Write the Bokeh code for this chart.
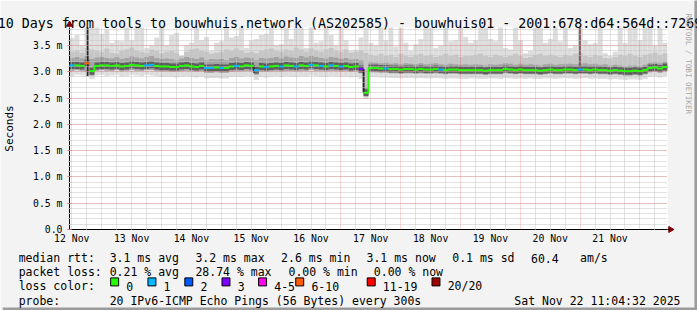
import math
from bokeh.plotting import figure
from bokeh.models import (Range1d, FixedTicker, PrintfTickFormatter, Grid, ColumnDataSource)
from bokeh.core.properties import value
from bokeh.embed import file_html
from bokeh.resources import INLINE

# ---------------- data ----------------
title = "10 Days from tools to bouwhuis.network (AS202585) - bouwhuis01 - 2001:678:d64:564d::7269"
watermark = "RRDTOOL / TOBI OETIKER"

# time axis in hours since 2025-11-12 00:00; graph ends Sat Nov 22 11:04:32
t_end = 240 + 11 + 4 / 60 + 32 / 3600
t_start = t_end - 240
bin_hours = 2.0

median = [3.12, 3.12, 3.11, 3.16, 3.01, 3.11, 3.12, 3.12, 3.11, 3.12,
          3.10, 3.11, 3.13, 3.12, 3.11, 3.12, 3.13, 3.11, 3.10, 3.10,
          3.09, 3.09, 3.11, 3.12, 3.10, 3.09, 3.11, 3.07, 3.07, 3.08,
          3.07, 3.07, 3.10, 3.11, 3.10, 3.12, 3.11, 3.03, 3.10, 3.09,
          3.10, 3.11, 3.10, 3.12, 3.11, 3.10, 3.12, 3.11, 3.13, 3.12,
          3.11, 3.10, 3.12, 3.11, 3.10, 3.11, 3.09, 3.10, 3.05, 2.60,
          3.07, 3.07, 3.06, 3.06, 3.05, 3.05, 3.04, 3.05, 3.05, 3.04,
          3.05, 3.04, 3.04, 3.05, 3.04, 3.03, 3.04, 3.04, 3.03, 3.03,
          3.03, 3.03, 3.03, 3.02, 3.03, 3.03, 3.03, 3.05, 3.04, 3.03,
          3.04, 3.03, 3.03, 3.03, 3.02, 3.03, 3.04, 3.03, 3.03, 3.04,
          3.04, 3.03, 3.04, 3.04, 3.03, 3.04, 3.03, 3.03, 3.02, 3.03,
          3.02, 3.01, 3.01, 3.02, 3.01, 3.03, 3.07, 3.08, 3.06, 3.09]

# highest ping per bin (values above the chart top are off-scale)
rtt_max = [3.64, 3.70, 3.50, 4.50, 4.50, 4.50, 3.72, 3.80, 3.55, 3.60,
           3.58, 4.50, 3.60, 4.50, 4.50, 3.45, 3.50, 3.65, 4.50, 3.50,
           3.70, 3.74, 3.30, 3.50, 3.55, 4.50, 3.60, 3.66, 3.40, 3.55,
           3.58, 4.50, 3.65, 3.68, 4.50, 3.45, 3.60, 3.62, 3.70, 3.72,
           4.50, 3.50, 3.52, 4.50, 3.62, 4.50, 4.50, 3.45, 4.50, 3.55,
           3.58, 4.50, 3.70, 3.50, 4.50, 3.60, 3.40, 3.42, 3.65, 4.50,
           3.55, 3.50, 4.50, 3.60, 4.50, 3.48, 4.50, 3.55, 3.40, 3.52,
           3.62, 4.50, 4.50, 3.45, 3.50, 4.50, 3.58, 3.60, 4.50, 3.66,
           3.55, 3.60, 4.50, 4.50, 3.62, 3.58, 4.50, 3.45, 3.42, 4.50,
           3.60, 3.35, 3.40, 4.50, 4.50, 3.55, 3.62, 4.50, 3.58, 4.50,
           3.45, 3.50, 4.50, 3.60, 3.52, 3.55, 4.50, 3.35, 3.30, 3.38,
           4.50, 3.55, 4.50, 4.50, 3.60, 4.50, 4.50, 3.50, 4.50, 3.55]

rtt_q90 = [3.38, 3.40, 3.36, 3.45, 3.42, 3.40, 3.38, 3.44, 3.36, 3.35,
           3.40, 3.42, 3.46, 3.40, 3.38, 3.36, 3.42, 3.40, 3.35, 3.38,
           3.40, 3.36, 3.30, 3.38, 3.42, 3.44, 3.40, 3.38, 3.34, 3.36,
           3.38, 3.42, 3.40, 3.44, 3.40, 3.36, 3.38, 3.35, 3.40, 3.42,
           3.44, 3.40, 3.38, 3.42, 3.40, 3.46, 3.42, 3.38, 3.44, 3.40,
           3.38, 3.42, 3.45, 3.40, 3.38, 3.42, 3.36, 3.38, 3.40, 3.36,
           3.32, 3.30, 3.34, 3.30, 3.32, 3.28, 3.34, 3.30, 3.28, 3.32,
           3.34, 3.30, 3.32, 3.28, 3.30, 3.34, 3.30, 3.32, 3.28, 3.30,
           3.30, 3.32, 3.34, 3.30, 3.28, 3.32, 3.30, 3.28, 3.30, 3.34,
           3.30, 3.26, 3.28, 3.32, 3.34, 3.30, 3.32, 3.30, 3.28, 3.32,
           3.30, 3.34, 3.36, 3.30, 3.28, 3.32, 3.30, 3.26, 3.25, 3.28,
           3.32, 3.30, 3.34, 3.30, 3.28, 3.32, 3.34, 3.36, 3.32, 3.35]

rtt_q75 = [3.26, 3.28, 3.25, 3.30, 3.24, 3.27, 3.28, 3.26, 3.25, 3.28,
           3.24, 3.26, 3.29, 3.27, 3.25, 3.28, 3.30, 3.26, 3.24, 3.25,
           3.24, 3.22, 3.25, 3.28, 3.26, 3.24, 3.27, 3.22, 3.24, 3.23,
           3.24, 3.22, 3.26, 3.28, 3.25, 3.27, 3.26, 3.22, 3.26, 3.25,
           3.26, 3.28, 3.25, 3.29, 3.27, 3.26, 3.30, 3.27, 3.30, 3.28,
           3.26, 3.25, 3.28, 3.27, 3.24, 3.26, 3.23, 3.24, 3.22, 2.70,
           3.18, 3.17, 3.16, 3.17, 3.15, 3.16, 3.14, 3.16, 3.15, 3.14,
           3.16, 3.14, 3.15, 3.16, 3.14, 3.13, 3.15, 3.14, 3.13, 3.14,
           3.13, 3.14, 3.13, 3.12, 3.14, 3.13, 3.14, 3.16, 3.15, 3.13,
           3.15, 3.13, 3.14, 3.13, 3.12, 3.14, 3.15, 3.13, 3.14, 3.15,
           3.15, 3.14, 3.15, 3.16, 3.14, 3.15, 3.13, 3.14, 3.12, 3.13,
           3.12, 3.11, 3.12, 3.12, 3.11, 3.13, 3.17, 3.18, 3.16, 3.19]

rtt_q25 = [3.02, 3.03, 3.02, 3.00, 2.93, 3.02, 3.03, 3.02, 3.02, 3.03,
           3.01, 3.02, 3.03, 3.02, 3.02, 3.03, 3.03, 3.02, 3.01, 3.01,
           3.00, 3.00, 3.01, 3.02, 3.01, 3.00, 3.01, 2.98, 2.98, 2.99,
           2.98, 2.98, 3.00, 3.01, 3.01, 3.02, 3.01, 2.94, 3.00, 3.00,
           3.01, 3.02, 3.01, 3.02, 3.02, 3.01, 3.02, 3.02, 3.03, 3.02,
           3.02, 3.01, 3.02, 3.02, 3.01, 3.02, 3.00, 3.01, 2.97, 2.56,
           2.99, 2.99, 2.98, 2.98, 2.97, 2.97, 2.96, 2.97, 2.97, 2.96,
           2.97, 2.96, 2.96, 2.97, 2.96, 2.95, 2.96, 2.96, 2.95, 2.95,
           2.95, 2.95, 2.95, 2.94, 2.95, 2.95, 2.95, 2.97, 2.96, 2.95,
           2.96, 2.95, 2.95, 2.95, 2.94, 2.95, 2.96, 2.95, 2.95, 2.96,
           2.96, 2.95, 2.96, 2.96, 2.95, 2.96, 2.95, 2.95, 2.94, 2.95,
           2.94, 2.93, 2.93, 2.94, 2.93, 2.95, 2.99, 3.00, 2.98, 3.01]

rtt_min = [2.92, 2.94, 2.93, 2.90, 2.86, 2.93, 2.94, 2.92, 2.93, 2.94,
           2.91, 2.92, 2.94, 2.93, 2.92, 2.94, 2.93, 2.92, 2.90, 2.91,
           2.90, 2.89, 2.91, 2.92, 2.90, 2.89, 2.91, 2.87, 2.88, 2.88,
           2.87, 2.87, 2.90, 2.91, 2.90, 2.92, 2.91, 2.84, 2.90, 2.89,
           2.91, 2.92, 2.90, 2.92, 2.91, 2.90, 2.92, 2.91, 2.93, 2.92,
           2.91, 2.90, 2.92, 2.91, 2.90, 2.91, 2.89, 2.90, 2.86, 2.48,
           2.90, 2.90, 2.89, 2.89, 2.88, 2.88, 2.87, 2.88, 2.88, 2.87,
           2.88, 2.87, 2.87, 2.88, 2.87, 2.86, 2.87, 2.87, 2.86, 2.86,
           2.87, 2.87, 2.86, 2.86, 2.87, 2.87, 2.86, 2.88, 2.87, 2.86,
           2.87, 2.86, 2.87, 2.86, 2.86, 2.87, 2.87, 2.86, 2.87, 2.88,
           2.87, 2.86, 2.87, 2.88, 2.86, 2.87, 2.86, 2.86, 2.85, 2.86,
           2.85, 2.84, 2.85, 2.85, 2.84, 2.86, 2.90, 2.91, 2.89, 2.92]

# lost pings (of 20) per bin
loss = [1, 0, 0, 7, 0, 0, 0, 0, 0, 0,
        0, 0, 0, 0, 0, 1, 1, 0, 0, 0,
        0, 0, 0, 0, 0, 0, 0, 1, 1, 0,
        1, 0, 0, 1, 0, 0, 0, 1, 0, 1,
        0, 0, 1, 0, 0, 1, 0, 0, 1, 0,
        1, 0, 1, 0, 1, 0, 0, 0, 3, 0,
        0, 0, 0, 1, 0, 0, 0, 0, 0, 0,
        0, 0, 0, 0, 1, 0, 0, 0, 0, 0,
        0, 0, 0, 0, 0, 0, 0, 0, 0, 0,
        0, 0, 0, 0, 0, 0, 0, 0, 0, 0,
        0, 0, 1, 0, 0, 0, 0, 0, 0, 0,
        0, 0, 0, 0, 0, 0, 0, 0, 0, 0]

# narrow dense smoke columns (hour, low ms, high ms)
spike_hours = [18.3, 85.1, 129.1, 215.9]
spike_low = [2.92, 2.98, 2.60, 3.06]
spike_high = [4.50, 3.12, 3.05, 4.50]

loss_limits = [0, 1, 2, 3, 5, 10, 19, 20]
loss_labels = ["0", "1", "2", "3", "4-5", "6-10", "11-19", "20/20"]
loss_colors = ["#26ff00", "#00b8ff", "#0059ff", "#7e00ff", "#ff00ea", "#ff5e00", "#ff0000", "#a10000"]

day_labels = ["12 Nov", "13 Nov", "14 Nov", "15 Nov", "16 Nov",
              "17 Nov", "18 Nov", "19 Nov", "20 Nov", "21 Nov"]
day_label_hours = [12, 36, 60, 84, 108, 132, 156, 180, 204, 228]
midnight_hours = [24, 48, 72, 96, 120, 144, 168, 192, 216, 240]
y_major = [0.0, 0.5, 1.0, 1.5, 2.0, 2.5, 3.0, 3.5]

rtt_stats = ["3.1 ms avg", "3.2 ms max", "2.6 ms min", "3.1 ms now", "0.1 ms sd", "60.4", "am/s"]
loss_stats = ["0.21 % avg", "28.74 % max", "0.00 % min", "0.00 % now"]
probe_text = "20 IPv6-ICMP Echo Pings (56 Bytes) every 300s"
timestamp = "Sat Nov 22 11:04:32 2025"

assert all(len(a) == 120 for a in [median, rtt_max, rtt_q90, rtt_q75, rtt_q25, rtt_min, loss])

# ---------------- layout ----------------
W, H = 697, 310
FL, FR, FT, FB = 67, 667, 27, 229          # frame edges in canvas px
PX_PER_MS = 52.6
PX_PER_H = (FR - FL) / 240.0
MONO = "DejaVu Sans Mono"
spike_colors = ["#262626", "#3a3a3a", "#262626", "#6a6a6a"]

p = figure(width=W, height=H, output_backend="svg", toolbar_location=None,
           x_range=Range1d(t_start, t_end), y_range=Range1d(0, (FB - FT) / PX_PER_MS))
p.min_border_left = FL
p.min_border_right = W - FR
p.min_border_top = FT
p.min_border_bottom = H - FB
p.background_fill_color = "#ffffff"
p.border_fill_color = "#f3f3f3"
p.outline_line_color = None


def cx(X):
    """canvas x pixel -> data x"""
    return t_start + (X - FL) / PX_PER_H


def cy(Y):
    """canvas y pixel -> data y"""
    return (FB - Y) / PX_PER_MS


n = len(median)
left = [t_start + i * bin_hours for i in range(n)]
right = [t_start + (i + 1) * bin_hours for i in range(n)]


def loss_class(k):
    for j, lim in enumerate(loss_limits):
        if k <= lim:
            return j
    return len(loss_limits) - 1


def loss_color(k):
    return loss_colors[loss_class(k)]


src = ColumnDataSource(dict(left=left, right=right, med=median, mx=rtt_max, q90=rtt_q90,
                            q75=rtt_q75, q25=rtt_q25, mn=rtt_min,
                            col=[loss_color(k) for k in loss]))

# smoke layers
p.quad(left="left", right="right", bottom="mn", top="mx", source=src,
       fill_color="#dddddd", line_color=None)
p.quad(left="left", right="right", bottom="q25", top="q90", source=src,
       fill_color="#c6c6c6", line_color=None)
p.quad(left="left", right="right", bottom="q25", top="q75", source=src,
       fill_color="#a4a4a4", line_color=None)
p.segment(x0="left", x1="right", y0="med", y1="med", source=src,
          line_color="#5e5e5e", line_width=7, line_cap="butt")
p.segment(x0=spike_hours, x1=spike_hours, y0=spike_low, y1=spike_high,
          line_color=spike_colors, line_width=2)

# grids (drawn over the smoke, like rrdtool)
six_hour = [h for h in range(12, 252, 6) if h % 24 != 0]
p.xgrid.ticker = FixedTicker(ticks=six_hour)
p.xgrid.grid_line_color = "#c4c4c4"
p.xgrid.grid_line_dash = "1 1"
p.xgrid.level = "guide"
p.ygrid.grid_line_color = "#ff0000"
p.ygrid.grid_line_alpha = 0.3
p.ygrid.grid_line_dash = "1 1"
p.ygrid.minor_grid_line_color = "#c4c4c4"
p.ygrid.minor_grid_line_dash = "1 1"
p.ygrid.level = "guide"
red_x = Grid(dimension=0, ticker=FixedTicker(ticks=midnight_hours),
             grid_line_color="#ff0000", grid_line_alpha=0.3, grid_line_dash="1 1", level="guide")
p.add_layout(red_x)

# median line coloured by loss
p.segment(x0="left", x1="right", y0="med", y1="med", source=src,
          line_color="col", line_width=2, line_cap="butt", level="annotation")
vx, vy0, vy1, vc = [], [], [], []
for i in range(n - 1):
    if loss_class(loss[i]) == loss_class(loss[i + 1]):
        vx.append(right[i]); vy0.append(median[i]); vy1.append(median[i + 1])
        vc.append(loss_color(loss[i]))
p.segment(x0=vx, x1=vx, y0=vy0, y1=vy1, line_color=vc, line_width=2, level="annotation")

# axes
p.xaxis.ticker = FixedTicker(ticks=day_label_hours)
p.xaxis.major_label_overrides = {h: d for h, d in zip(day_label_hours, day_labels)}
p.xaxis.major_tick_in = 0
p.xaxis.major_tick_out = 0
p.xaxis.minor_tick_in = 0
p.xaxis.minor_tick_out = 0
p.xaxis.major_label_standoff = 3
p.yaxis.ticker = FixedTicker(ticks=y_major, minor_ticks=[i / 10 for i in range(39)])
p.yaxis.formatter = PrintfTickFormatter(format="%.1f m")
p.yaxis.major_label_overrides = {0: "0.0"}
p.yaxis.major_tick_in = 2
p.yaxis.major_tick_out = 2
p.yaxis.major_tick_line_color = "#ff0000"
p.yaxis.major_tick_line_alpha = 0.6
p.yaxis.minor_tick_in = 1
p.yaxis.minor_tick_out = 1
p.yaxis.minor_tick_line_color = "#999999"
p.yaxis.major_label_standoff = 5
p.yaxis.axis_label = "Seconds"
p.yaxis.axis_label_text_font = MONO
p.yaxis.axis_label_text_font_size = "11px"
p.yaxis.axis_label_text_font_style = "normal"
p.yaxis.axis_label_text_color = "#000000"
p.yaxis.axis_label_standoff = 14
for ax in (p.xaxis, p.yaxis):
    ax.major_label_text_font = MONO
    ax.major_label_text_font_size = "9.8px"
    ax.major_label_text_color = "#000000"
    ax.axis_line_color = "#000000"

# ---------------- decorations outside the frame (overlay glyphs) ----------------
# axis arrow heads
p.scatter(x=[cx(FR + 3)], y=[cy(FB)], marker="triangle", size=6, angle=-math.pi / 2,
          fill_color="#7f0000", line_color="#7f0000", level="overlay")
p.scatter(x=[cx(FL)], y=[cy(FT - 3)], marker="triangle", size=6,
          fill_color="#7f0000", line_color="#7f0000", level="overlay")
p.segment(x0=[cx(FR)], x1=[cx(FR + 2)], y0=[cy(FB)], y1=[cy(FB)], line_color="#000000",
          line_width=1, level="overlay")


def canvas_text(text, X, Y, size, align="left", baseline="alphabetic", color="#000000", angle=0.0):
    p.text(x=[cx(X)], y=[cy(Y)], text=[text], text_font=value(MONO),
           text_font_size=f"{size}px", text_align=align, text_baseline=baseline,
           text_color=color, angle=angle, level="overlay")


def canvas_box(X0, Y0, X1, Y1, fill, line=None):
    p.quad(left=[cx(X0)], right=[cx(X1)], top=[cy(Y0)], bottom=[cy(Y1)],
           fill_color=fill, line_color=line, line_width=1, level="overlay")


# frame shading of the image border
canvas_box(694, 0, 697, 310, "#9c9c9c")
canvas_box(0, 307, 697, 310, "#9c9c9c")

# title and watermark
canvas_text(title, 348.5, 23.3, 13.3, align="center")
canvas_text(watermark, 688, 13, 7.6, baseline="middle", color="#a8a8a8", angle=-math.pi / 2)

# legend block
LS = 11.5
rows = [257.5, 271.7, 285.9, 300.1]
canvas_text("median rtt:", 16, rows[0], LS)
for txt, X in zip(rtt_stats, [107.3, 193.3, 279.3, 365, 451, 530, 579.3]):
    canvas_text(txt, X, rows[0], LS)
canvas_text("packet loss:", 16, rows[1], LS)
for txt, X in zip(loss_stats, [107.3, 193.3, 286.7, 372.3]):
    canvas_text(txt, X, rows[1], LS)
canvas_text("loss color:", 16, rows[2], LS)
for lab, col, X in zip(loss_labels, loss_colors, [108.3, 145.7, 182.7, 220, 256.7, 294, 365.7, 430.7]):
    canvas_box(X, rows[2] - 8.5, X + 8, rows[2] - 0.5, col, "#000000")
    canvas_text(lab, X + 15.7, rows[2], LS)
canvas_text("probe:", 16, rows[3], LS)
canvas_text(probe_text, 107.3, rows[3], LS)
canvas_text(timestamp, 513.3, rows[3], LS)

open("out.html", "w").write(file_html(p, INLINE))
